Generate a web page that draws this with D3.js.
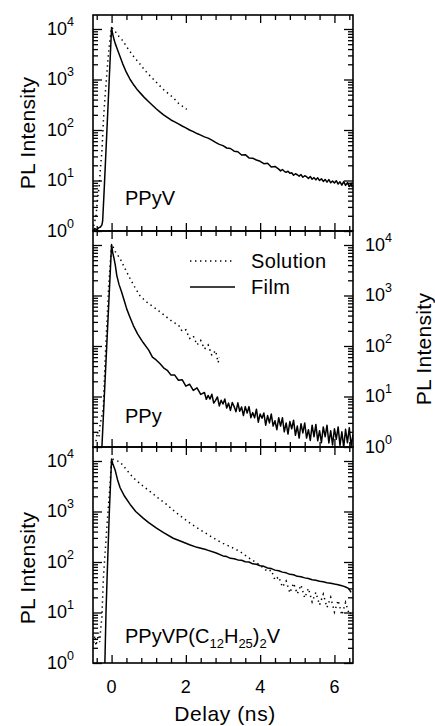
<!DOCTYPE html>
<html><head><meta charset="utf-8">
<script src="https://cdn.jsdelivr.net/npm/d3@7"></script>
<style>
body{margin:0;background:#fff;}
text{font-family:"Liberation Sans",Arial,Helvetica,sans-serif;fill:#000;}
</style></head>
<body><svg id="c" width="435" height="726"></svg>
<script>
// ---------- data (delay in ns, PL intensity in counts) ----------
const panelNames = ["PPyV", "PPy", "PPyVP(C12H25)2V"];
const xMajorTicks = [0, 2, 4, 6];
const xTickLabels = ["0", "2", "4", "6"];
const yMajorTicks = [1, 10, 100, 1000, 10000];
const yTickExponents = ["0", "1", "2", "3", "4"];
const legendLabels = ["Solution", "Film"];

const ppyvFilm = [[-0.5,1.0],[-0.45,1.12],[-0.4,1.05],[-0.35,1.15],[-0.3,1.2],[-0.26,1.32],[-0.24,1.58],[-0.2,6.3],[-0.1,251],[0,10700],
[0.03,7940],[0.07,6030],[0.1,5130],[0.15,4070],[0.2,3240],[0.25,2570],[0.3,2040],[0.4,1380],[0.5,1000],[0.6,776],[0.7,617],[0.8,513],[0.9,427],
[1.0,363],[1.1,309],[1.2,263],[1.3,229],[1.4,200],[1.5,178],[1.6,158],[1.7,145],[1.8,132],[1.9,120],[2.0,110],[2.1,100],[2.2,93],[2.3,85],[2.4,79],
[2.5,73],[2.6,69],[2.7,63],[2.8,57],[2.9,52],[3.0,49],[3.1,44],[3.2,43],[3.3,38],[3.4,37],[3.5,32],[3.6,32.5],[3.7,28],[3.8,27.5],[3.9,25.5],[4.0,24],
[4.1,21.5],[4.2,22],[4.3,18.5],[4.4,19],[4.5,16.8],[4.55,15.5],[4.6,16.5],[4.65,15.2],[4.7,14.5],[4.75,15.3],[4.8,13.9],[4.85,14.2],[4.9,12.7],[4.95,13.6],
[5.0,13.0],[5.05,12.2],[5.1,13.1],[5.15,11.6],[5.2,12.4],[5.25,11.9],[5.3,11.0],[5.35,12.0],[5.4,10.6],[5.45,11.4],[5.5,10.3],[5.55,11.3],[5.6,10.0],
[5.65,10.8],[5.7,9.6],[5.75,10.5],[5.8,9.3],[5.85,10.4],[5.9,9.0],[5.95,9.8],[6.0,8.9],[6.05,9.9],[6.1,8.5],[6.15,9.4],[6.2,8.1],[6.25,9.5],[6.3,8.0],
[6.35,9.1],[6.4,7.6],[6.45,8.9],[6.48,7.4]];

const ppyvSolution = [[-0.48,1.26],[-0.42,2],[-0.38,4],[-0.33,8.3],[-0.3,17.8],[-0.26,38],[-0.22,151],[-0.17,513],[-0.13,1260],[-0.086,3160],[-0.04,6310],[0,10700],
[0.05,10000],[0.1,8910],[0.2,7080],[0.3,5890],[0.45,3980],[0.6,2820],[0.77,2000],[0.9,1510],[1.0,1260],[1.21,871],[1.4,631],[1.66,437],[1.8,339],[2.02,257]];

const ppyFilm = [[-0.26,1.0],[0,10200],[0.03,7080],[0.067,5370],[0.1,3980],[0.14,2510],[0.2,1660],[0.27,1170],[0.34,794],[0.41,537],[0.5,363],[0.59,251],[0.7,174],[0.85,117],
[1.0,83],[1.1,60],[1.2,53],[1.3,45],[1.4,37],[1.5,33],[1.6,26.5],[1.7,26.5],[1.8,21],[1.9,21.5],[2.0,16],[2.1,17.5],[2.2,13.2],[2.3,14.8],[2.4,11],
[2.5,12.0],[2.55,8.8],[2.6,10.5],[2.65,8.9],[2.7,11.1],[2.75,7.4],[2.8,8.4],[2.85,9.8],[2.9,6.5],[2.95,8.4],[3.0,7.1],[3.05,8.9],[3.1,5.9],[3.15,7.4],
[3.2,5.3],[3.25,7.6],[3.3,6.3],[3.35,5.0],[3.4,7.5],[3.45,5.1],[3.5,6.2],[3.55,4.2],[3.6,6.3],[3.65,4.7],[3.7,6.3],[3.75,3.8],[3.8,4.8],[3.85,3.8],
[3.9,5.6],[3.95,3.1],[4.0,4.5],[4.05,3.7],[4.1,4.7],[4.15,2.7],[4.2,4.2],[4.25,3.0],[4.3,4.5],[4.35,2.6],[4.4,3.3],[4.45,2.2],[4.5,3.8],[4.55,2.6],
[4.6,3.8],[4.65,2.0],[4.7,3.0],[4.75,1.8],[4.8,3.2],[4.85,2.3],[4.9,3.4],[4.95,1.7],[5.0,2.6],[5.05,1.5],[5.1,2.9],[5.15,1.9],[5.2,3.0],[5.25,1.5],
[5.3,2.2],[5.35,1.35],[5.4,2.7],[5.45,1.6],[5.5,2.8],[5.55,1.33],[5.6,2.1],[5.65,1.22],[5.7,2.5],[5.75,1.6],[5.8,2.7],[5.85,1.2],[5.9,2.1],[5.95,1.1],
[6.0,2.3],[6.05,1.43],[6.1,2.5],[6.15,1.08],[6.2,2.0],[6.25,0.99],[6.3,2.24],[6.35,1.22],[6.4,2.4],[6.45,1.06],[6.5,1.78]];

const ppySolution = [[-0.42,1.3],[-0.38,2.0],[-0.34,1.6],[-0.31,2.8],[-0.28,3.5],[-0.25,4.5],[-0.22,6.5],[-0.18,40],[-0.13,250],[-0.08,1500],[-0.04,4000],[0,10200],
[0.05,8900],[0.1,7400],[0.23,5370],[0.35,3550],[0.5,2140],[0.63,1450],[0.76,1000],[0.9,790],[1.0,690],[1.21,537],[1.4,417],[1.66,295],
[1.8,263],[1.9,195],[2.0,209],[2.1,141],[2.2,158],[2.3,105],[2.4,129],[2.5,87],[2.6,105],[2.7,65],[2.8,81],[2.87,47],[2.9,60]];

const ppyvpFilm = [[-0.18,1.0],[-0.15,10],[-0.12,50],[-0.06,1000],[0,10960],[0.03,8910],[0.1,6460],[0.16,4270],[0.23,2950],[0.35,2000],[0.5,1380],[0.65,1000],
[0.85,741],[1.0,603],[1.21,468],[1.4,380],[1.66,295],[1.9,251],[2.1,219],[2.3,195],[2.56,174],[2.8,152],
[3.0,132],[3.1,128],[3.2,118],[3.3,116],[3.4,110],[3.5,108],[3.6,101],[3.7,100],[3.8,92],[3.9,90],[4.0,84],[4.1,82],[4.2,76],[4.3,74],[4.4,69],[4.5,67],
[4.6,63],[4.7,61],[4.8,57],[4.9,56],[5.0,52],[5.1,51],[5.2,48.5],[5.3,47],[5.4,44.5],[5.5,43.5],[5.6,41.5],[5.7,40.5],[5.8,39],[5.9,38],[6.0,36.5],
[6.1,35.5],[6.2,34],[6.3,32],[6.38,30],[6.45,25]];

const ppyvpSolution = [[-0.48,2.5],[-0.45,3.5],[-0.42,2.2],[-0.38,3.0],[-0.35,4.0],[-0.32,2.6],[-0.29,5],[-0.26,8],[-0.22,47],[-0.13,468],[-0.04,3470],[0,10960],
[0.06,10700],[0.23,9550],[0.4,6760],[0.58,4680],[0.8,3390],[1.03,2510],[1.25,1860],[1.48,1380],[1.7,1000],[1.93,741],[2.15,562],[2.38,437],[2.6,347],
[2.82,275],[3.0,234],[3.18,204],[3.45,162],[3.7,120],[3.99,87],[4.2,65],
[4.3,69],[4.4,44],[4.5,51],[4.6,32],[4.7,42],[4.8,24.5],[4.9,38],[5.0,23.4],[5.1,35],[5.2,19.5],[5.3,30],[5.4,16.2],[5.5,25],[5.6,14.1],[5.7,23],
[5.8,12.6],[5.9,20],[6.0,10.2],[6.1,17.4],[6.2,8.9],[6.3,15.8],[6.4,9.1],[6.45,10]];

const filmSeries = [ppyvFilm, ppyFilm, ppyvpFilm];
const solutionSeries = [ppyvSolution, ppySolution, ppyvpSolution];

// ---------- layout ----------
const svg = d3.select("#c");
const L = 93, R = 353;
const panelTops = [15, 231, 447];
const panelH = 216;
const FONT = 18;

const x = d3.scaleLinear().domain([-0.5, 6.5]).range([L, R]);
const xMinor = d3.range(-0.4, 6.5, 0.4).map(v => Math.round(v*10)/10).filter(v => !xMajorTicks.includes(v));

function expLabel(g, xx, yy, anchor, exp) {
  const t = g.append("text").attr("x", xx).attr("y", yy).attr("text-anchor", anchor)
    .attr("dominant-baseline", "central").style("font-size", FONT + "px");
  t.append("tspan").text("10");
  t.append("tspan").attr("dy", -7).style("font-size", "12.5px").text(exp);
}

panelTops.forEach((top, i) => {
  const y = d3.scaleLog().domain([1, Math.pow(10, 4.277)]).range([top + panelH, top]);
  const g = svg.append("g");
  const yMinor = y.ticks().filter(v => !yMajorTicks.includes(v));

  const cid = "clip" + i;
  svg.append("clipPath").attr("id", cid).append("rect")
    .attr("x", L).attr("y", top).attr("width", R - L).attr("height", panelH);

  const mk = (axis, tr, vals, size) => {
    const a = g.append("g").attr("transform", tr)
      .call(axis.tickValues(vals).tickSize(size).tickFormat(""));
    a.select(".domain").remove();
    a.selectAll("line").attr("stroke", "#000").attr("stroke-width", 1.3);
  };
  mk(d3.axisBottom(x), `translate(0,${top + panelH})`, xMajorTicks, -8);
  mk(d3.axisBottom(x), `translate(0,${top + panelH})`, xMinor, -5);
  mk(d3.axisTop(x), `translate(0,${top})`, xMajorTicks, -8);
  mk(d3.axisTop(x), `translate(0,${top})`, xMinor, -5);
  mk(d3.axisLeft(y), `translate(${L},0)`, yMajorTicks, -9);
  mk(d3.axisLeft(y), `translate(${L},0)`, yMinor, -5);
  mk(d3.axisRight(y), `translate(${R},0)`, yMajorTicks, -9);
  mk(d3.axisRight(y), `translate(${R},0)`, yMinor, -5);

  g.append("rect").attr("x", L).attr("y", top).attr("width", R - L).attr("height", panelH)
    .attr("fill", "none").attr("stroke", "#000").attr("stroke-width", 1.6);

  const line = d3.line().x(d => x(d[0])).y(d => y(d[1]));
  g.append("path").datum(solutionSeries[i]).attr("d", line).attr("clip-path", `url(#${cid})`)
    .attr("fill", "none").attr("stroke", "#000").attr("stroke-width", 1.5)
    .attr("stroke-dasharray", "1.4,3.6");
  g.append("path").datum(filmSeries[i]).attr("d", line).attr("clip-path", `url(#${cid})`)
    .attr("fill", "none").attr("stroke", "#000").attr("stroke-width", 1.5).attr("stroke-linejoin", "round");

  const right = (i === 1);
  yMajorTicks.forEach((v, k) => {
    if (right) expLabel(g, 365, y(v), "start", yTickExponents[k]);
    else expLabel(g, 74, y(v), "end", yTickExponents[k]);
  });
  const titleX = right ? 423 : 27;
  const titleY = right ? 349 : (i === 0 ? 133 : 568);
  g.append("text").attr("transform", `translate(${titleX},${titleY}) rotate(-90)`)
    .attr("text-anchor", "middle").attr("dominant-baseline", "central")
    .style("font-size", "21px").style("letter-spacing", "0.3px").text("PL Intensity");

  const nameY = [205, 423, 643][i];
  const nt = g.append("text").attr("x", 125).attr("y", nameY).style("font-size", "20px");
  if (i < 2) nt.text(panelNames[i]);
  else {
    nt.append("tspan").text("PPyVP(C");
    nt.append("tspan").attr("dy", 5).style("font-size", "13px").text("12");
    nt.append("tspan").attr("dy", -5).text("H");
    nt.append("tspan").attr("dy", 5).style("font-size", "13px").text("25");
    nt.append("tspan").attr("dy", -5).text(")");
    nt.append("tspan").attr("dy", 5).style("font-size", "13px").text("2");
    nt.append("tspan").attr("dy", -5).text("V");
  }
});

// legend (panel 2)
const lg = svg.append("g");
lg.append("line").attr("x1", 190).attr("x2", 235).attr("y1", 261).attr("y2", 261)
  .attr("stroke", "#000").attr("stroke-width", 1.3).attr("stroke-dasharray", "1.4,3.6");
lg.append("line").attr("x1", 190).attr("x2", 235).attr("y1", 287).attr("y2", 287)
  .attr("stroke", "#000").attr("stroke-width", 1.4);
lg.append("text").attr("x", 251).attr("y", 261).attr("dominant-baseline", "central").style("font-size", "20px").style("letter-spacing", "0.4px").text(legendLabels[0]);
lg.append("text").attr("x", 251).attr("y", 287).attr("dominant-baseline", "central").style("font-size", "20px").style("letter-spacing", "0.4px").text(legendLabels[1]);

xMajorTicks.forEach((v, k) => {
  svg.append("text").attr("x", x(v)).attr("y", 687).attr("text-anchor", "middle")
    .attr("dominant-baseline", "central").style("font-size", FONT + "px").text(xTickLabels[k]);
});
svg.append("text").attr("x", 225).attr("y", 721).attr("text-anchor", "middle")
  .style("font-size", "21px").style("letter-spacing", "0.6px").text("Delay (ns)");
</script></body></html>
